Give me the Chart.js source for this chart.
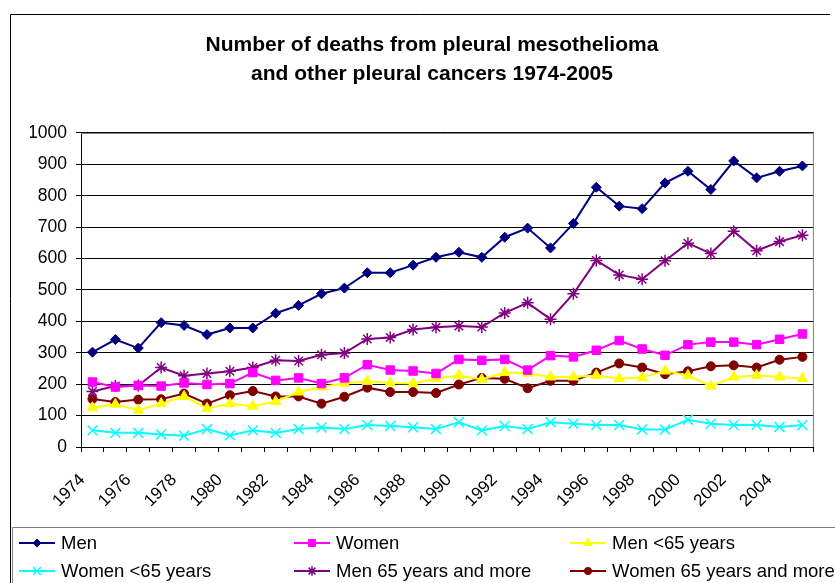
<!DOCTYPE html>
<html>
<head>
<meta charset="utf-8">
<title>Pleural mesothelioma deaths 1974-2005</title>
<script src="https://cdn.jsdelivr.net/npm/chart.js@4.4.1/dist/chart.umd.min.js"></script>
<style>
  html, body { margin: 0; padding: 0; background: #fff; }
  canvas { display: block; }
</style>
</head>
<body>
<canvas id="chart" width="835" height="583"></canvas>
<script>
// Categories and series
const years = ['1974', '1975', '1976', '1977', '1978', '1979', '1980', '1981',
               '1982', '1983', '1984', '1985', '1986', '1987', '1988', '1989',
               '1990', '1991', '1992', '1993', '1994', '1995', '1996', '1997',
               '1998', '1999', '2000', '2001', '2002', '2003', '2004', '2005'];

const men = [302, 342, 315, 396, 387, 358, 379, 379, 426, 451, 488, 506, 555, 555, 579, 604,
             620, 604, 668, 697, 634, 712, 827, 767, 759, 841, 878, 820, 911, 857, 878, 895];
const women = [207, 191, 196, 194, 204, 199, 202, 237, 212, 220, 202, 220, 262, 245, 242, 234,
               279, 276, 279, 245, 291, 287, 308, 339, 312, 292, 326, 334, 334, 326, 343, 360];
const menUnder65 = [125, 136, 117, 138, 161, 123, 138, 130, 145, 175, 191, 203, 209, 204, 202, 218,
                    228, 215, 237, 235, 223, 223, 228, 218, 221, 242, 228, 194, 223, 228, 223, 218];
const womenUnder65 = [53, 45, 45, 40, 36, 57, 37, 53, 45, 57, 62, 57, 70, 67, 63, 57,
                      79, 53, 67, 57, 79, 74, 70, 70, 56, 56, 87, 74, 70, 70, 64, 70];
const men65Plus = [177, 194, 196, 253, 227, 234, 241, 253, 276, 274, 294, 299, 344, 349, 374, 381,
                   385, 382, 427, 459, 407, 488, 594, 548, 534, 593, 649, 616, 687, 625, 654, 674];
const women65Plus = [153, 143, 151, 152, 170, 138, 165, 178, 161, 161, 138, 160, 189, 175, 175, 172,
                     199, 220, 217, 187, 211, 211, 237, 266, 253, 232, 241, 257, 260, 253, 278, 287];

const titleLines = ['Number of deaths from pleural mesothelioma', 'and other pleural cancers 1974-2005'];

const FONT = '"Liberation Sans", Arial, Helvetica, sans-serif';
Chart.defaults.font.family = FONT;
Chart.defaults.color = '#000';

function series(label, data, color, pointStyle, radius, borderWidth) {
    return {
        label: label,
        data: data,
        borderColor: color,
        backgroundColor: color,
        pointBackgroundColor: color,
        pointBorderColor: color,
        pointStyle: pointStyle,
        pointRadius: radius,
        pointBorderWidth: borderWidth,
        borderWidth: 2,
        tension: 0,
        fill: false
    };
}

// Outer frame, plot border and the boxed 3-column legend at the bottom
const decorPlugin = {
    id: 'decor',
    beforeDraw(chart) {
        const ctx = chart.ctx;
        ctx.save();
        ctx.fillStyle = '#fff';
        ctx.fillRect(0, 0, chart.width, chart.height);
        ctx.strokeStyle = '#000';
        ctx.lineWidth = 1;
        ctx.beginPath();
        ctx.moveTo(10.5, chart.height);
        ctx.lineTo(10.5, 14.5);
        ctx.lineTo(830, 14.5);
        ctx.stroke();
        ctx.restore();
    },
    beforeDatasetsDraw(chart) {
        const ctx = chart.ctx;
        const a = chart.chartArea;
        ctx.save();
        ctx.strokeStyle = '#808080';
        ctx.lineWidth = 1;
        ctx.beginPath();
        ctx.moveTo(a.left, a.top + 0.5);
        ctx.lineTo(a.right - 0.5, a.top + 0.5);
        ctx.lineTo(a.right - 0.5, a.bottom);
        ctx.stroke();
        ctx.restore();
    },
    afterDraw(chart) {
        const ctx = chart.ctx;
        const cols = [19, 294, 570];
        const rows = [543, 571];
        ctx.save();
        ctx.strokeStyle = '#808080';
        ctx.lineWidth = 1;
        ctx.strokeRect(12.5, 527.5, 900, 100);
        ctx.font = '18.5px ' + FONT;
        ctx.textBaseline = 'middle';
        ctx.textAlign = 'left';
        chart.data.datasets.forEach((ds, i) => {
            const x = cols[i % 3];
            const y = rows[Math.floor(i / 3)];
            ctx.strokeStyle = ds.borderColor;
            ctx.fillStyle = ds.borderColor;
            ctx.lineWidth = 2;
            ctx.beginPath();
            ctx.moveTo(x, y);
            ctx.lineTo(x + 36, y);
            ctx.stroke();
            ctx.lineWidth = ds.pointBorderWidth;
            Chart.helpers.drawPoint(ctx, {
                pointStyle: ds.pointStyle,
                radius: ds.pointRadius * 0.8,
                rotation: 0,
                borderWidth: ds.pointBorderWidth
            }, x + 18, y);
            ctx.fillStyle = '#000';
            ctx.fillText(ds.label, x + 42, y + 1);
        });
        ctx.restore();
    }
};

new Chart(document.getElementById('chart').getContext('2d'), {
    type: 'line',
    data: {
        labels: years,
        datasets: [
            series('Men', men, '#000080', 'rectRot', 5, 1),
            series('Women', women, '#FF00FF', 'rect', 6, 1),
            series('Men <65 years', menUnder65, '#FFFF00', 'triangle', 6, 1),
            series('Women <65 years', womenUnder65, '#00FFFF', 'crossRot', 7, 1.5),
            series('Men 65 years and more', men65Plus, '#800080', 'star', 6, 1.5),
            series('Women 65 years and more', women65Plus, '#800000', 'circle', 4.5, 1)
        ]
    },
    options: {
        responsive: false,
        animation: false,
        layout: { padding: { left: 30, right: 1, top: 0, bottom: 56 } },
        plugins: {
            legend: { display: false },
            tooltip: { enabled: false },
            title: {
                display: true,
                text: titleLines,
                color: '#000',
                font: { size: 21, weight: 'bold', lineHeight: 1.38 },
                padding: { top: 31, bottom: 44 }
            }
        },
        scales: {
            x: {
                offset: true,
                grid: { display: true, drawOnChartArea: false, offset: true, tickLength: 5, color: '#000' },
                border: { color: '#000' },
                ticks: {
                    autoSkip: false,
                    minRotation: 45,
                    maxRotation: 45,
                    padding: 18,
                    labelOffset: -10,
                    color: '#000',
                    font: { size: 17 },
                    callback: function (value, index) {
                        return index % 2 === 0 ? this.getLabelForValue(value) : '';
                    }
                },
                afterFit(scale) { scale.height = 80; }
            },
            y: {
                min: 0,
                max: 1000,
                ticks: {
                    stepSize: 100,
                    color: '#000',
                    font: { size: 17.5 },
                    padding: 9,
                    callback: (value) => String(value)
                },
                grid: { color: '#000', tickLength: 5 },
                border: { color: '#000' },
                afterFit(scale) { scale.width = 51; }
            }
        }
    },
    plugins: [decorPlugin]
});
</script>
</body>
</html>
